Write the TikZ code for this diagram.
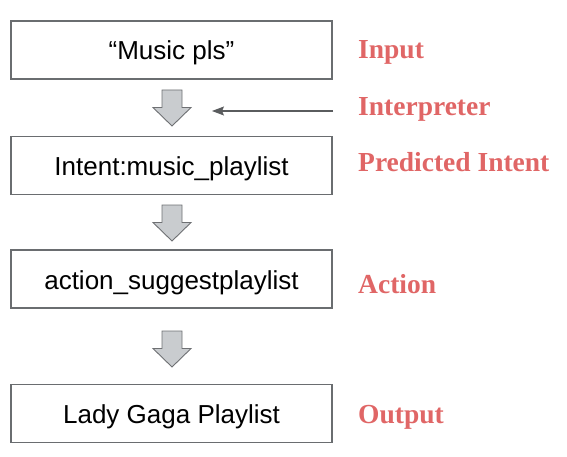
\documentclass[tikz,border=0pt]{standalone}
\usepackage{fontspec}
\setmainfont{Liberation Sans}
\newfontfamily\labelfont{Liberation Serif}
\usetikzlibrary{arrows.meta}
\definecolor{boxline}{HTML}{6A6D70}
\definecolor{arrfill}{HTML}{C9CCCF}
\definecolor{arrline}{HTML}{6E7073}
\definecolor{lblred}{HTML}{E06666}
\definecolor{thinarr}{HTML}{5A5C5E}
\tikzset{
  flowbox/.style={draw=boxline, line width=1.2pt, fill=white, minimum width=321pt, minimum height=58pt,
    inner sep=0pt, text height=22pt, text depth=2pt, font=\fontsize{26}{30}\selectfont},
  sidelabel/.style={anchor=base west, inner sep=0pt, text=lblred, font=\labelfont\bfseries\fontsize{27.5}{30}\selectfont},
  blockarr/.pic={\draw[arrline, fill=arrfill, line width=0.9pt, line join=miter]
      (-10,0) -- (10,0) -- (10,17.5) -- (19,17.5) -- (0,36) -- (-19,17.5) -- (-10,17.5) -- cycle;}
}
\begin{document}
\begin{tikzpicture}[x=1pt,y=1pt]
\useasboundingbox (0,0) rectangle (567,456);
% y runs downward inside this scope
\begin{scope}[shift={(0,456)}, y=-1pt]
  \node[flowbox] (input) at (171.5,50) {“Music pls”};
  \node[flowbox] (intent) at (171.5,165.5) {Intent:music\_playlist};
  \node[flowbox] (action) at (171.5,279) {action\_suggestplaylist};
  \node[flowbox] (output) at (171.5,413.5) {Lady Gaga Playlist};

  \pic at (172,90) {blockarr};
  \pic at (172,205) {blockarr};
  \pic at (172,331) {blockarr};

  \node[sidelabel] (lin) at (358,59) {Input};
  \node[sidelabel] (linterp) at (358,116) {Interpreter};
  \node[sidelabel] (lpred) at (358,171) {Predicted Intent};
  \node[sidelabel] (lact) at (358,293) {Action};
  \node[sidelabel] (lout) at (358,423) {Output};

  \coordinate (thinstart) at (333,111);
  \coordinate (thinend) at (212,111);
  \draw[thinarr, line width=1.2pt, -{Stealth[length=12pt,width=9pt,inset=2pt]}] (thinstart) -- (thinend);
\end{scope}
\end{tikzpicture}
\end{document}
